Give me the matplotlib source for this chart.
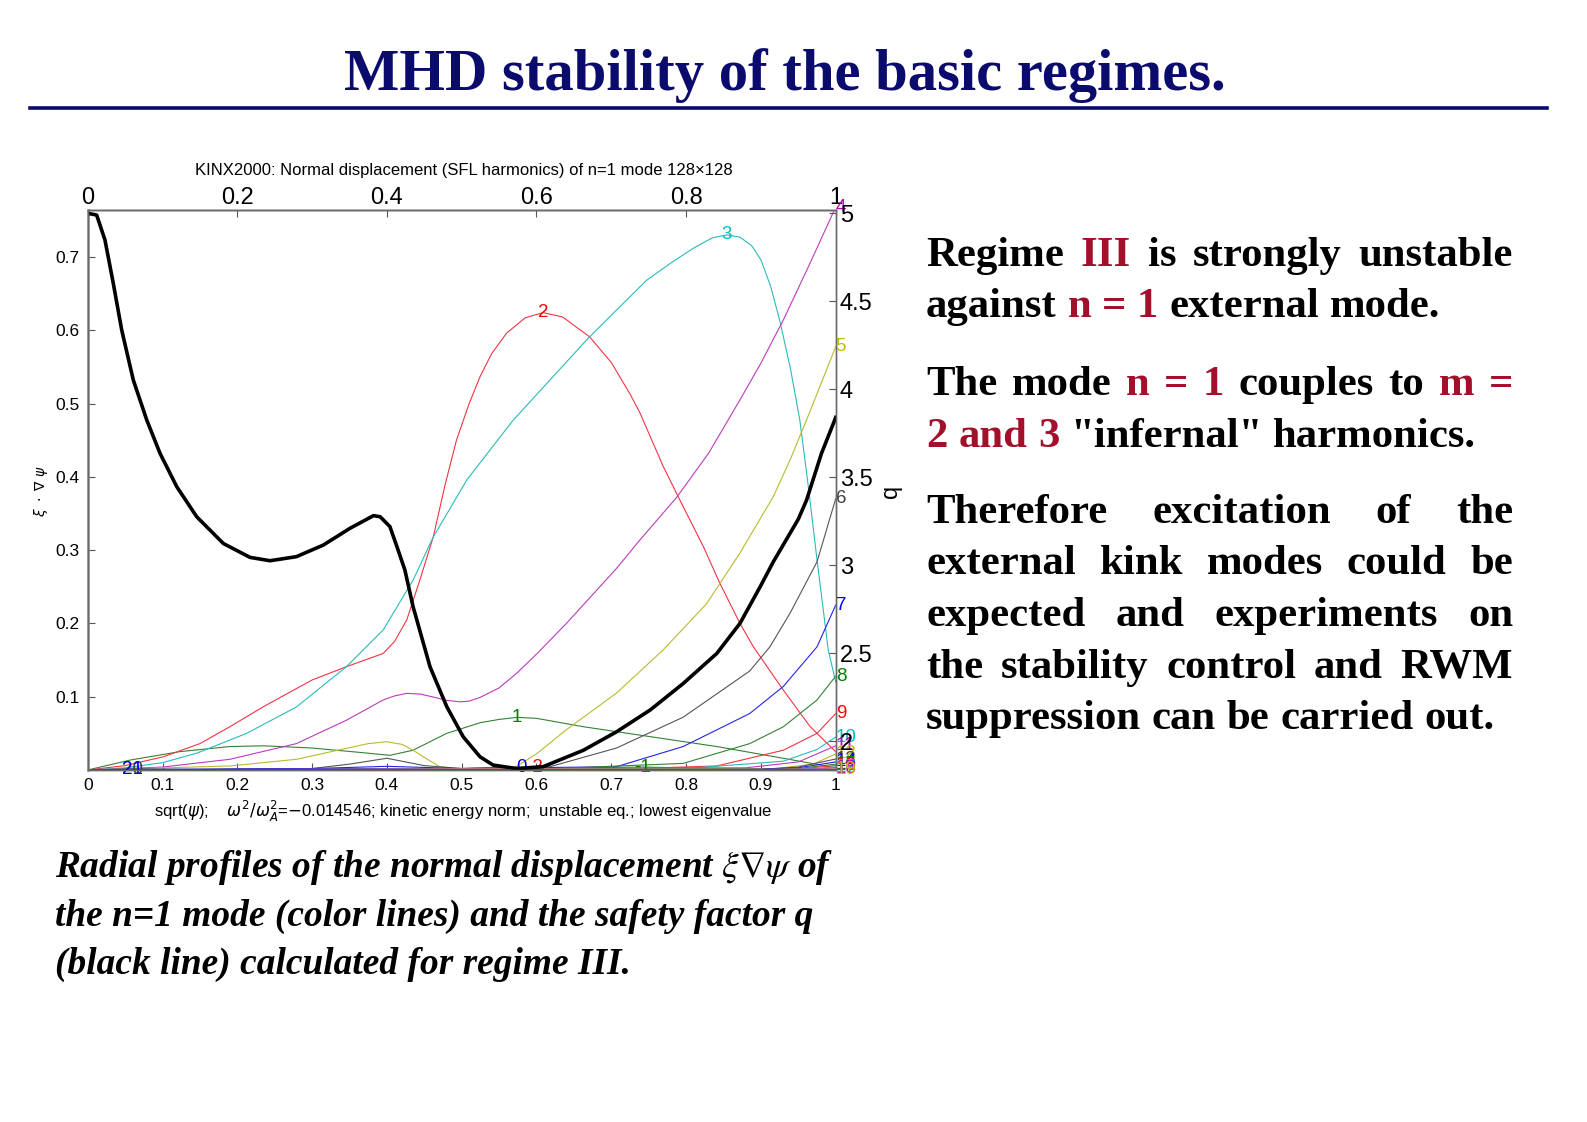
import matplotlib
matplotlib.use('Agg')
import matplotlib.pyplot as plt
from matplotlib.lines import Line2D
from matplotlib.transforms import IdentityTransform
import numpy as np

W, H = 1587, 1122

# safety factor q (black line, right axis)
q_x = [0, 0.012, 0.0231, 0.0342, 0.0455, 0.061, 0.0789, 0.0967, 0.119, 0.1457, 0.1813,
       0.217, 0.2437, 0.279, 0.315, 0.351, 0.382, 0.391, 0.404, 0.413, 0.424, 0.435,
       0.4576, 0.48, 0.502, 0.5245, 0.542, 0.5735, 0.609, 0.6626, 0.707, 0.752, 0.796,
       0.841, 0.872, 0.899, 0.9166, 0.950, 0.961, 0.981, 0.997, 1.0]
q_val = [5.0, 4.99, 4.848, 4.602, 4.336, 4.052, 3.826, 3.636, 3.447, 3.276, 3.124,
         3.045, 3.026, 3.049, 3.115, 3.211, 3.282, 3.276, 3.220, 3.111, 2.974, 2.765,
         2.424, 2.197, 2.026, 1.912, 1.865, 1.845, 1.856, 1.949, 2.054, 2.178, 2.328,
         2.499, 2.670, 2.878, 3.020, 3.262, 3.370, 3.636, 3.807, 3.84]

# poloidal harmonics of xi.grad(psi)
m1_x = [0, 0.057, 0.123, 0.19, 0.235, 0.30, 0.368, 0.404, 0.435, 0.48, 0.525, 0.55,
        0.574, 0.60, 0.663, 0.752, 0.841, 0.93, 1.0]
m1_y = [0, 0.0136, 0.025, 0.032, 0.033, 0.030, 0.0236, 0.020, 0.027, 0.050, 0.0646,
        0.069, 0.0718, 0.0705, 0.059, 0.0455, 0.032, 0.016, 0.003]
m2_x = [0, 0.05, 0.101, 0.15, 0.19, 0.235, 0.30, 0.346, 0.395, 0.41, 0.4265, 0.444,
        0.462, 0.478, 0.493, 0.51, 0.5245, 0.54, 0.56, 0.585, 0.609, 0.635, 0.671, 0.70,
        0.725, 0.7384, 0.7695, 0.7918, 0.823, 0.845, 0.872, 0.89, 0.93, 0.966, 1.0]
m2_y = [0, 0.006, 0.018, 0.036, 0.059, 0.0864, 0.1228, 0.141, 0.159, 0.175, 0.2046,
        0.259, 0.318, 0.39, 0.45, 0.50, 0.5366, 0.568, 0.596, 0.617, 0.624, 0.618,
        0.591, 0.556, 0.513, 0.487, 0.414, 0.368, 0.305, 0.255, 0.200, 0.168, 0.109,
        0.059, 0.025]
m3_x = [0, 0.05, 0.10, 0.146, 0.2125, 0.279, 0.346, 0.395, 0.435, 0.462, 0.507, 0.569,
        0.614, 0.669, 0.747, 0.78, 0.81, 0.835, 0.854, 0.872, 0.888, 0.90, 0.913, 0.9255,
        0.94, 0.952, 0.963, 0.974, 0.99, 1.0]
m3_y = [0, 0.003, 0.010, 0.023, 0.050, 0.086, 0.141, 0.191, 0.259, 0.318, 0.396,
        0.4775, 0.5276, 0.589, 0.668, 0.692, 0.712, 0.726, 0.730, 0.727, 0.715, 0.696,
        0.66, 0.612, 0.545, 0.4775, 0.39, 0.2956, 0.164, 0.12]
m4_x = [0, 0.1, 0.19, 0.279, 0.346, 0.395, 0.41, 0.4265, 0.445, 0.46, 0.48, 0.498, 0.51,
        0.5245, 0.55, 0.5735, 0.60, 0.64, 0.707, 0.7384, 0.7874, 0.83, 0.872, 0.90, 0.93,
        0.9655, 1.0]
m4_y = [0, 0.004, 0.0146, 0.036, 0.068, 0.0955, 0.101, 0.1046, 0.1035, 0.100, 0.095,
        0.093, 0.094, 0.099, 0.112, 0.132, 0.158, 0.200, 0.275, 0.314, 0.372, 0.432,
        0.505, 0.555, 0.614, 0.691, 0.768]
m5_x = [0, 0.19, 0.279, 0.346, 0.375, 0.40, 0.42, 0.435, 0.455, 0.471, 0.50, 0.55,
        0.5735, 0.60, 0.64, 0.707, 0.7695, 0.8275, 0.872, 0.9166, 0.939, 0.961, 1.0]
m5_y = [0, 0.0055, 0.0146, 0.0296, 0.036, 0.0386, 0.035, 0.027, 0.014, 0.0045, 0.001,
        0.001, 0.005, 0.022, 0.055, 0.105, 0.164, 0.227, 0.296, 0.373, 0.423, 0.4775,
        0.5775]
m6_x = [0, 0.3, 0.35, 0.40, 0.45, 0.5, 0.618, 0.707, 0.796, 0.885, 0.912, 0.939, 0.975, 1.0]
m6_y = [0, 0.002, 0.008, 0.016, 0.006, 0.002, 0.0045, 0.030, 0.072, 0.135, 0.168,
        0.214, 0.284, 0.370]
m7_x = [0, 0.3, 0.4, 0.5, 0.707, 0.796, 0.885, 0.93, 0.975, 1.0]
m7_y = [0, 0.002, 0.005, 0.002, 0.0045, 0.032, 0.077, 0.114, 0.168, 0.225]
m8_x = [0, 0.6, 0.796, 0.885, 0.93, 0.975, 1.0]
m8_y = [0, 0.001, 0.009, 0.036, 0.059, 0.0955, 0.128]
m9_x = [0, 0.7, 0.841, 0.93, 0.975, 1.0]
m9_y = [0, 0.001, 0.0055, 0.027, 0.050, 0.077]
m10_x = [0, 0.8, 0.93, 0.975, 1.0]
m10_y = [0, 0.002, 0.012, 0.028, 0.045]
m11_x = [0, 0.88, 0.95, 1.0]
m11_y = [0, 0.003, 0.011, 0.033]
m12_x = [0, 0.92, 0.97, 1.0]
m12_y = [0, 0.002, 0.008, 0.022]
edge_x = [0, 0.9, 0.95, 1.0]
m13_y = [0, 0.001, 0.004, 0.015]
m14_y = [0, 0.001, 0.003, 0.011]
m15_y = [0, 0.0005, 0.002, 0.008]
m16_y = [0, 0.0004, 0.0015, 0.006]
m17_y = [0, 0.0003, 0.001, 0.004]
m18_y = [0, 0.0002, 0.0008, 0.0025]
m19_y = [0, 0.0001, 0.0004, 0.0012]
m0_x = [0, 0.2, 0.4, 0.5, 0.58, 0.7, 0.85, 1.0]
m0_y = [0, 0.001, 0.002, 0.002, 0.003, 0.001, 0.0005, 0]
mm1_x = [0, 0.3, 0.5, 0.65, 0.742, 0.85, 1.0]
mm1_y = [0, 0.001, 0.002, 0.003, 0.004, 0.002, 0]
mm2_x = [0, 0.3, 0.5, 0.598, 0.75, 1.0]
mm2_y = [0, 0.001, 0.002, 0.003, 0.001, 0]
low_x = [0, 0.06, 0.2, 1.0]
m20_y = [0, 0.0012, 0.0003, 0]
m21_y = [0, 0.0013, 0.0003, 0]

x_ticks = [0, 0.1, 0.2, 0.3, 0.4, 0.5, 0.6, 0.7, 0.8, 0.9, 1.0]
x_ticklabels = ['0', '0.1', '0.2', '0.3', '0.4', '0.5', '0.6', '0.7', '0.8', '0.9', '1']
top_ticks = [0, 0.2, 0.4, 0.6, 0.8, 1.0]
top_ticklabels = ['0', '0.2', '0.4', '0.6', '0.8', '1']
y_ticks = [0.1, 0.2, 0.3, 0.4, 0.5, 0.6, 0.7]
y_ticklabels = ['0.1', '0.2', '0.3', '0.4', '0.5', '0.6', '0.7']
q_ticks = [2, 2.5, 3, 3.5, 4, 4.5, 5]
q_ticklabels = ['2', '2.5', '3', '3.5', '4', '4.5', '5']

text_lines = [
    'Regime [III] is strongly unstable',
    'against [n = 1] external mode.',
    'The mode [n = 1] couples to [m =]',
    '[2 and 3] "infernal" harmonics.',
    'Therefore excitation of the',
    'external kink modes could be',
    'expected and experiments on',
    'the stability control and RWM',
    'suppression can be carried out.',
]
text_justify = [True, False, True, False, True, True, True, True, False]
caption_lines = [
    r'Radial profiles of the normal displacement $\xi\nabla\psi$ of',
    'the n=1 mode (color lines) and the safety factor q',
    '(black line) calculated for regime III.',
]

# MATLAB-like colour cycle (b, g, r, c, m, y, k)
line_colors = {'b': '#2424e8', 'g': '#348234', 'r': '#f23445', 'c': '#2cbaba',
               'm': '#bb3cbb', 'y': '#baba30', 'k': '#555555'}
label_colors = {'b': '#0000ff', 'g': '#008000', 'r': '#ff0000', 'c': '#00bfbf',
                'm': '#bf00bf', 'y': '#bfbf00', 'k': '#404040'}
harmonics = [
    ('-2', mm2_x, mm2_y, 'r'), ('-1', mm1_x, mm1_y, 'g'), ('0', m0_x, m0_y, 'b'),
    ('1', m1_x, m1_y, 'g'), ('2', m2_x, m2_y, 'r'), ('3', m3_x, m3_y, 'c'),
    ('4', m4_x, m4_y, 'm'), ('5', m5_x, m5_y, 'y'), ('6', m6_x, m6_y, 'k'),
    ('7', m7_x, m7_y, 'b'), ('8', m8_x, m8_y, 'g'), ('9', m9_x, m9_y, 'r'),
    ('10', m10_x, m10_y, 'c'), ('11', m11_x, m11_y, 'm'), ('12', m12_x, m12_y, 'y'),
    ('13', edge_x, m13_y, 'k'), ('14', edge_x, m14_y, 'b'), ('15', edge_x, m15_y, 'g'),
    ('16', edge_x, m16_y, 'r'), ('17', edge_x, m17_y, 'c'), ('18', edge_x, m18_y, 'm'),
    ('19', edge_x, m19_y, 'y'), ('20', low_x, m20_y, 'k'), ('21', low_x, m21_y, 'b'),
]

SANS = 'Liberation Sans'
SERIF = ['Liberation Serif', 'DejaVu Serif']
NAVY = '#0b0b6e'
DARKRED = '#a3102c'

fig = plt.figure(figsize=(W / 100, H / 100), dpi=100)
ax = fig.add_axes([87.7 / W, 1 - 770 / H, 748 / W, (770 - 210.3) / H])

for name, hx, hy, c in harmonics:
    ax.plot(hx, hy, color=line_colors[c], lw=0.8)
    i = int(np.argmax(hy))
    ha = 'left' if i == len(hy) - 1 else 'center'
    ax.text(hx[i], hy[i], name, color=label_colors[c], fontsize=13.5, family=SANS,
            ha=ha, va='center', clip_on=False)

ax.set_xlim(0, 1)
ax.set_ylim(0, 0.7636)
ax.set_xticks(x_ticks)
ax.set_xticklabels(x_ticklabels, fontsize=12.5, family=SANS)
ax.set_yticks(y_ticks)
ax.set_yticklabels(y_ticklabels, fontsize=12.5, family=SANS)
ax.tick_params(direction='in', length=5, width=0.8, color='#555555', pad=6)

top = ax.secondary_xaxis('top')
top.set_xticks(top_ticks)
top.set_xticklabels(top_ticklabels, fontsize=17, family=SANS)
top.tick_params(direction='in', length=5, width=0.8, color='#555555', pad=1)

ax2 = ax.twinx()
ax2.plot(q_x, q_val, color='black', lw=2.6)
ax2.set_ylim(1.837, 5.017)
ax2.set_yticks(q_ticks)
ax2.set_yticklabels(q_ticklabels, fontsize=17, family=SANS)
ax2.tick_params(direction='in', length=5, width=0.8, color='#555555', pad=3)

for a in (ax, ax2, top):
    for s in a.spines.values():
        s.set_color('#6a6a6a')
        s.set_linewidth(1.0)
ax.spines['left'].set_color('#8a8a8a')
ax.spines['left'].set_linewidth(1.8)

fig.text(464 / W, 1 - 171 / H,
         'KINX2000: Normal displacement (SFL harmonics) of n=1 mode 128\u00d7128',
         ha='center', va='center', fontsize=12, family=SANS)
fig.text(463 / W, 1 - 811 / H,
         r'sqrt($\psi$);    $\omega^2/\omega_A^2$=$-$0.014546; kinetic energy norm;  '
         'unstable eq.; lowest eigenvalue',
         ha='center', va='center', fontsize=12, family=SANS)
fig.text(41 / W, 1 - 491 / H, r'$\xi\ \cdot\ \nabla\ \psi$', rotation=90,
         ha='center', va='center', fontsize=10)
fig.text(891 / W, 1 - 491 / H, 'q', rotation=90, ha='center', va='center',
         fontsize=17, family=SANS)

# slide title and rule
fig.text(785 / W, 1 - 90 / H, 'MHD stability of the basic regimes.', ha='center',
         va='baseline', fontsize=42.2, weight='bold', color=NAVY, family=SERIF)
fig.add_artist(Line2D([30 / W, 1547 / W], [1 - 108 / H, 1 - 108 / H], color=NAVY, lw=2.6))

# right-hand paragraph, justified word by word
renderer = fig.canvas.get_renderer()
ident = IdentityTransform()


def text_width(s, **kw):
    t = fig.text(0, 0, s, transform=ident, **kw)
    w = t.get_window_extent(renderer).width
    t.remove()
    return w


def put_line(line, base, x0, x1, justify, **kw):
    words = []
    red = False
    for tok in line.split(' '):
        if tok.startswith('['):
            red = True
            tok = tok[1:]
        end = tok.endswith(']')
        if end:
            tok = tok[:-1]
        words.append((tok, DARKRED if red else 'black'))
        if end:
            red = False
    widths = [text_width(w, **kw) for w, _ in words]
    space = text_width('a a', **kw) - text_width('aa', **kw)
    if justify and len(words) > 1:
        space = (x1 - x0 - sum(widths)) / (len(words) - 1)
    x = x0
    for (w, c), wd in zip(words, widths):
        fig.text(x, H - base, w, transform=ident, color=c, ha='left', va='baseline', **kw)
        x += wd + space


text_base = [266, 317, 395, 447, 523, 574, 626, 678, 729]
for line, just, base in zip(text_lines, text_justify, text_base):
    put_line(line, base, 926, 1513, just, fontsize=30.8, weight='bold', family=SERIF)

caption_base = [877, 926, 974]
for line, base in zip(caption_lines, caption_base):
    fig.text(55 / W, 1 - base / H, line, ha='left', va='baseline', fontsize=26.9,
             weight='bold', style='italic', family=SERIF, math_fontfamily='stix')

fig.savefig('out.png', dpi=100)
